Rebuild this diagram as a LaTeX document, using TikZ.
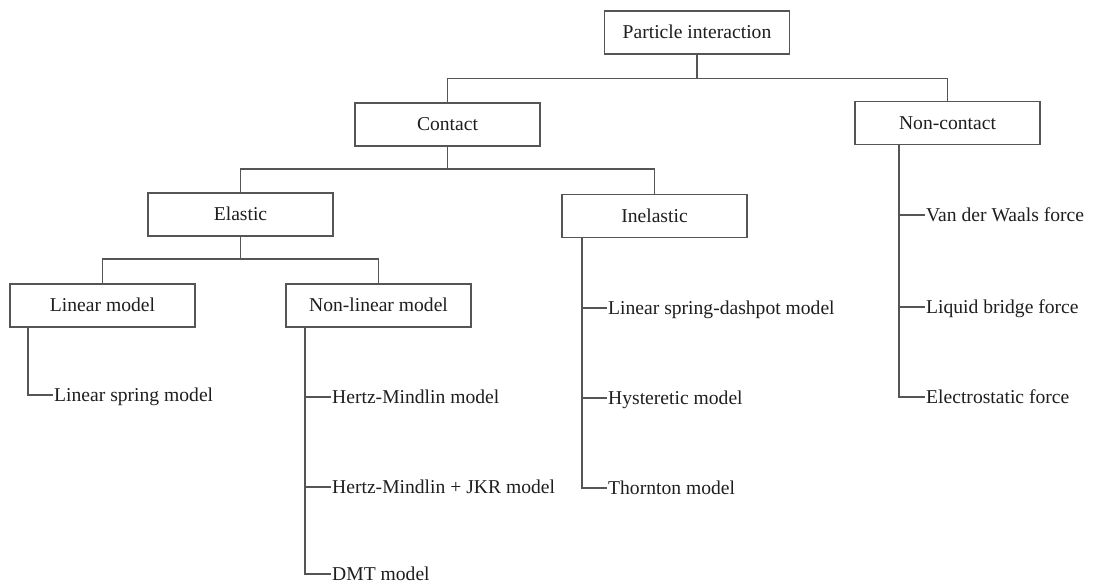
\documentclass[tikz,border=0pt]{standalone}
\usepackage{fontspec}
\setmainfont{Liberation Serif}
\definecolor{linegray}{HTML}{555555}
\definecolor{textblack}{HTML}{1E1E1E}
\begin{document}
\begin{tikzpicture}[x=1pt,y=-1pt,
  every node/.style={font=\fontsize{19.6pt}{23pt}\selectfont, text=textblack},
  box/.style={draw=linegray, line width=1.6pt, fill=white, minimum width=185pt, minimum height=43pt,
              inner sep=0pt, text height=13pt, text depth=0pt},
  leaf/.style={anchor=west, inner sep=1pt, text height=15.7pt, text depth=2.9pt},
  conn/.style={draw=linegray, line width=1.6pt}]
\useasboundingbox (0,0) rectangle (1093,585);
% boxes
\node[box] (pi) at (697,32.5) {Particle interaction};
\node[box] (contact) at (447.5,124.5) {Contact};
\node[box] (noncontact) at (947.5,123) {Non-contact};
\node[box] (elastic) at (240.5,214.5) {Elastic};
\node[box] (inelastic) at (654.5,216) {Inelastic};
\node[box] (linmodel) at (102.5,305.5) {Linear model};
\node[box] (nonlin) at (378.5,305.5) {Non-linear model};
% bus junctions
\coordinate (b1) at (697,78.5);
\coordinate (b2) at (447.5,169);
\coordinate (b3) at (240.5,259);
\draw[conn] (pi.south) -- (b1);
\draw[conn] (contact.north) |- (b1) -| (noncontact.north);
\draw[conn] (contact.south) -- (b2);
\draw[conn] (elastic.north) |- (b2) -| (inelastic.north);
\draw[conn] (elastic.south) -- (b3);
\draw[conn] (linmodel.north) |- (b3) -| (nonlin.north);
% leaves
\node[leaf] (lsm) at (53,395) {Linear spring model};
\node[leaf] (hm) at (331,397) {Hertz-Mindlin model};
\node[leaf] (jkr) at (331,487) {Hertz-Mindlin + JKR model};
\node[leaf, text height=12.8pt, text depth=0pt] (dmt) at (331,574) {DMT model};
\node[leaf] (lsd) at (607,308) {Linear spring-dashpot model};
\node[leaf] (hys) at (607,398) {Hysteretic model};
\node[leaf] (thr) at (607,488) {Thornton model};
\node[leaf] (vdw) at (925,215) {Van der Waals force};
\node[leaf] (lbf) at (925,307) {Liquid bridge force};
\node[leaf] (esf) at (925,397) {Electrostatic force};
% trunks
\draw[conn] ([xshift=-74.5pt]linmodel.south) |- (lsm.west);
\draw[conn] ([xshift=-73.5pt]nonlin.south) |- (dmt.west);
\draw[conn] ([xshift=-73.5pt]nonlin.south |- hm.west) -- (hm.west);
\draw[conn] ([xshift=-73.5pt]nonlin.south |- jkr.west) -- (jkr.west);
\draw[conn] ([xshift=-72.5pt]inelastic.south) |- (thr.west);
\draw[conn] ([xshift=-72.5pt]inelastic.south |- lsd.west) -- (lsd.west);
\draw[conn] ([xshift=-72.5pt]inelastic.south |- hys.west) -- (hys.west);
\draw[conn] ([xshift=-48.5pt]noncontact.south) |- (esf.west);
\draw[conn] ([xshift=-48.5pt]noncontact.south |- vdw.west) -- (vdw.west);
\draw[conn] ([xshift=-48.5pt]noncontact.south |- lbf.west) -- (lbf.west);
\end{tikzpicture}
\end{document}
